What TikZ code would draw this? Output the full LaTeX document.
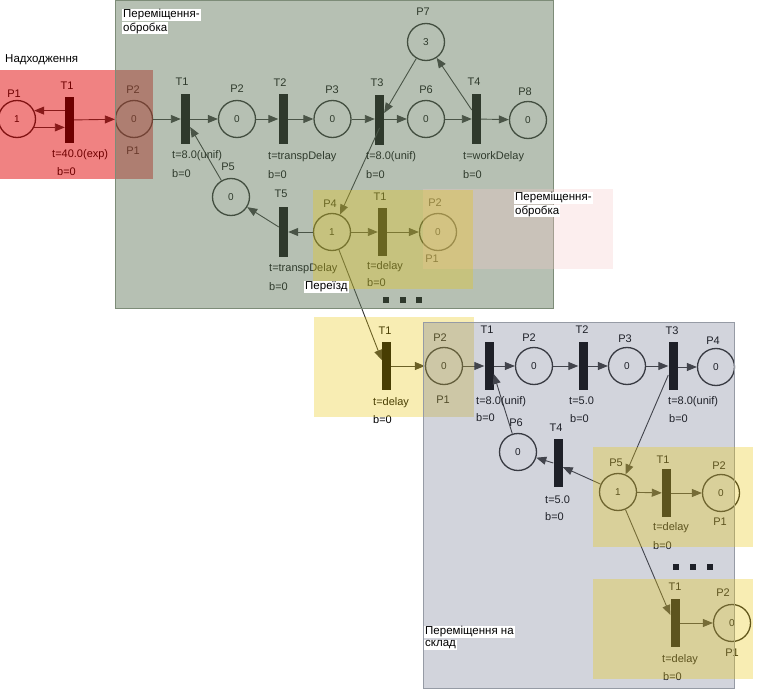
\documentclass[tikz,border=0pt]{standalone}
\usepackage{fontspec}
\setmainfont{Liberation Sans}
\usetikzlibrary{arrows.meta}
\definecolor{ovred}{RGB}{225,0,0}
\definecolor{ovgreen}{RGB}{100,123,94}
\definecolor{ovyellow}{RGB}{235,200,10}
\definecolor{ovblue}{RGB}{102,109,136}
\definecolor{ovpink}{RGB}{248,200,200}
\definecolor{grnedge}{RGB}{125,140,120}
\definecolor{bluedge}{RGB}{150,155,165}
\tikzset{
 place/.style={circle, draw=black!85, line width=1.3pt, minimum size=37pt, inner sep=0pt, font=\fontsize{10}{12}\selectfont},
 trans/.style={rectangle, fill=black, minimum width=9pt, minimum height=50pt, inner sep=0pt},
 transs/.style={trans, minimum height=48pt},
 lbl/.style={inner sep=0pt, font=\fontsize{11}{12}\selectfont},
 lw/.style={lbl, anchor=west},
 arc/.style={draw=black!80, line width=0.9pt, -{Triangle[length=10pt,width=8pt]}},
 tag/.style={fill=white, inner sep=1pt, anchor=west, font=\fontsize{11.5}{13}\selectfont},
 sq/.style={rectangle, fill=black, minimum size=5.5pt, inner sep=0pt},
}
\begin{document}
\begin{tikzpicture}[x=1pt,y=-1pt]
\useasboundingbox (0,0) rectangle (764,690);
\fill[white] (0,0) rectangle (764,690);

% ---------- top row ----------
\node[place] (P1a) at (17,119) {1};
\node[trans, minimum height=46pt] (T1a) at (69.5,120) {};
\node[place] (P2a) at (134,119) {0};
\node[trans] (T1b) at (185.5,119) {};
\node[place] (P2b) at (237,119) {0};
\node[trans] (T2b) at (283,119) {};
\node[place] (P3b) at (332.5,119) {0};
\node[trans] (T3b) at (379.5,120) {};
\node[place] (P6b) at (426,119) {0};
\node[trans] (T4b) at (476.5,119) {};
\node[place] (P8b) at (528,120) {0};
\node[place] (P7b) at (426,42) {3};

% ---------- second row ----------
\node[place] (P5b) at (231,197) {0};
\node[trans] (T5b) at (283.5,232) {};
\node[place] (P4b) at (332,232) {1};
\node[trans, minimum height=48pt] (T1c) at (382.5,232) {};
\node[place] (P2c) at (438,232) {0};

% ---------- bottom network ----------
\node[transs] (T1d) at (386.5,366) {};
\node[place] (P2d) at (444,366) {0};
\node[transs] (T1e) at (489,366) {};
\node[place] (P2e) at (534,366) {0};
\node[transs] (T2e) at (583,366) {};
\node[place] (P3e) at (627,366) {0};
\node[transs] (T3e) at (673,366) {};
\node[place] (P4e) at (716,367) {0};
\node[place] (P6e) at (518,452) {0};
\node[transs] (T4e) at (558,463) {};
\node[place] (P5e) at (618,492) {1};
\node[transs] (T1f) at (666.5,493) {};
\node[place] (P2f) at (721,493) {0};
\node[transs] (T1g) at (675,623) {};
\node[place] (P2g) at (732,623) {0};

% ---------- arcs ----------
\draw[arc] (T1a.west |- P1a.26) -- (P1a.26);
\draw[arc] (P1a.-26) -- (T1a.west |- P1a.-26);
\draw[arc] (T1a) -- (P2a);
\draw[arc] (P2a) -- (T1b);
\draw[arc] (T1b) -- (P2b);
\draw[arc] (P2b) -- (T2b);
\draw[arc] (T2b) -- (P3b);
\draw[arc] (P3b) -- (T3b.west |- P3b);
\draw[arc] (T3b.east |- P6b) -- (P6b);
\draw[arc] (P6b) -- (T4b);
\draw[arc] (T4b) -- (P8b);
\draw[arc] (P7b) -- ([yshift=7pt]T3b.east);
\draw[arc] ([yshift=9pt]T4b.west) -- (P7b);
\draw[arc] ([yshift=-8pt]T3b.center) -- (P4b);
\draw[arc] (P5b) -- ([yshift=-8pt]T1b.east);
\draw[arc] ([yshift=5pt]T5b.west) -- (P5b);
\draw[arc] (P4b) -- (T5b);
\draw[arc] (P4b) -- (T1c);
\draw[arc] (T1c) -- (P2c);
\draw[arc] (P4b) -- ([yshift=6pt]T1d.west);
\draw[arc] (T1d) -- (P2d);
\draw[arc] (P2d) -- (T1e);
\draw[arc] (T1e) -- (P2e);
\draw[arc] (P2e) -- (T2e);
\draw[arc] (T2e) -- (P3e);
\draw[arc] (P3e) -- (T3e);
\draw[arc] (T3e.east |- P4e) -- (P4e);
\draw[arc] ([yshift=-9pt]T3e.west) -- (P5e);
\draw[arc] (P6e) -- ([yshift=-8pt]T1e.east);
\draw[arc] (T4e.west) -- (P6e);
\draw[arc] (P5e) -- ([yshift=-4pt]T4e.east);
\draw[arc] (P5e) -- (T1f);
\draw[arc] (T1f) -- (P2f);
\draw[arc] (P5e) -- ([yshift=8pt]T1g.west);
\draw[arc] (T1g) -- (P2g);

% ---------- labels (top) ----------
\node[lbl] (l1) at (14,94) {P1};
\node[lbl] (l2) at (67,86) {T1};
\node[lw] (l3) at (52,155) {t=40.0(exp)};
\node[lw] (l4) at (57,172) {b=0};
\node[lbl] (l5) at (133,90) {P2};
\node[lbl] (l6) at (133,151) {P1};
\node[lbl] (l7) at (182,82) {T1};
\node[lw] (l8) at (172,156) {t=8.0(unif)};
\node[lw] (l9) at (172,174) {b=0};
\node[lbl] (l10) at (237,89) {P2};
\node[lbl] (l11) at (280,83) {T2};
\node[lw] (l12) at (268,157) {t=transpDelay};
\node[lw] (l13) at (268,175) {b=0};
\node[lbl] (l14) at (332,90) {P3};
\node[lbl] (l15) at (377,83) {T3};
\node[lw] (l16) at (366,157) {t=8.0(unif)};
\node[lw] (l17) at (366,175) {b=0};
\node[lbl] (l18) at (426,90) {P6};
\node[lbl] (l19) at (474,82) {T4};
\node[lw] (l20) at (463,157) {t=workDelay};
\node[lw] (l21) at (463,175) {b=0};
\node[lbl] (l22) at (525,92) {P8};
\node[lbl] (l23) at (423,12) {P7};

% ---------- labels (second row) ----------
\node[lbl] (l24) at (228,167) {P5};
\node[lbl] (l25) at (281,194) {T5};
\node[lw] (l26) at (269,269) {t=transpDelay};
\node[lw] (l27) at (269,287) {b=0};
\node[lbl] (l28) at (330,204) {P4};
\node[lbl] (l29) at (380,197) {T1};
\node[lw] (l30) at (367,267) {t=delay};
\node[lw] (l31) at (367,283) {b=0};
\node[lbl] (l32) at (435,203) {P2};
\node[lbl] (l33) at (432,259) {P1};
\node[sq] (d1) at (386,300) {};
\node[sq] (d2) at (403,300) {};
\node[sq] (d3) at (419,300) {};

% ---------- labels (bottom) ----------
\node[lbl] (l34) at (385,331) {T1};
\node[lw] (l35) at (373,403) {t=delay};
\node[lw] (l36) at (373,420) {b=0};
\node[lbl] (l37) at (440,338) {P2};
\node[lbl] (l38) at (443,400) {P1};
\node[lbl] (l39) at (487,330) {T1};
\node[lw] (l40) at (476,402) {t=8.0(unif)};
\node[lw] (l41) at (476,418) {b=0};
\node[lbl] (l42) at (529,338) {P2};
\node[lbl] (l43) at (582,330) {T2};
\node[lw] (l44) at (569,401) {t=5.0};
\node[lw] (l45) at (570,419) {b=0};
\node[lbl] (l46) at (625,339) {P3};
\node[lbl] (l47) at (672,331) {T3};
\node[lw] (l48) at (668,402) {t=8.0(unif)};
\node[lw] (l49) at (669,419) {b=0};
\node[lbl] (l50) at (713,341) {P4};
\node[lbl] (l51) at (516,423) {P6};
\node[lbl] (l52) at (556,428) {T4};
\node[lw] (l53) at (545,500) {t=5.0};
\node[lw] (l54) at (545,517) {b=0};
\node[lbl] (l55) at (616,463) {P5};
\node[lbl] (l56) at (663,460) {T1};
\node[lw] (l57) at (653,528) {t=delay};
\node[lw] (l58) at (653,546) {b=0};
\node[lbl] (l59) at (719,466) {P2};
\node[lbl] (l60) at (720,522) {P1};
\node[sq] (d4) at (676,567) {};
\node[sq] (d5) at (693,567) {};
\node[sq] (d6) at (710,567) {};
\node[lbl] (l61) at (675,587) {T1};
\node[lw] (l62) at (662,660) {t=delay};
\node[lw] (l63) at (663,677) {b=0};
\node[lbl] (l64) at (723,593) {P2};
\node[lbl] (l65) at (732,653) {P1};

% ---------- translucent overlays ----------
\fill[ovred, fill opacity=0.49] (0,70) rectangle (153,179);
\filldraw[fill=ovgreen, fill opacity=0.47, draw=grnedge, line width=1pt] (115,0.5) rectangle (553,308);
\fill[ovpink, fill opacity=0.3] (423,189) rectangle (613,269);
\fill[ovyellow, fill opacity=0.31] (313,190) rectangle (473,289);
\fill[ovyellow, fill opacity=0.31] (314,317) rectangle (474,417);
\filldraw[fill=ovblue, fill opacity=0.294, draw=bluedge, line width=1pt] (423,322) rectangle (734,688);
\fill[ovyellow, fill opacity=0.31] (593,447) rectangle (753,547);
\fill[ovyellow, fill opacity=0.31] (593,579) rectangle (753,679);

% ---------- group titles ----------
\node[tag, fill=none] (g1) at (4,60) {Надходження};
\node[tag] (g2a) at (122,15) {Переміщення-};
\node[tag] (g2b) at (122,28) {обробка};
\node[tag] (g3a) at (514,198) {Переміщення-};
\node[tag] (g3b) at (514,211) {обробка};
\node[tag] (g4) at (304,287) {Переїзд};
\node[tag] (g5a) at (424,632) {Переміщення на};
\node[tag] (g5b) at (424,645) {склад};
\end{tikzpicture}
\end{document}
